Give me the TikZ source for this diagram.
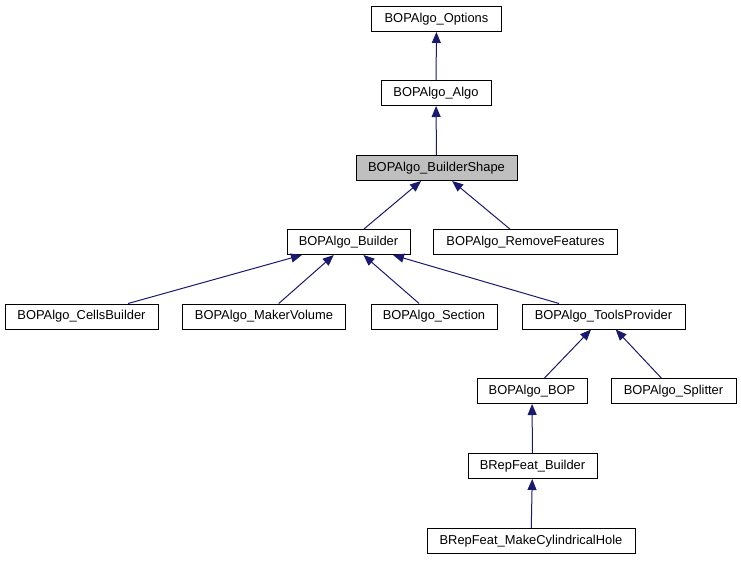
\documentclass[tikz,border=0pt]{standalone}
\usepackage{fontspec}
\setmainfont{Liberation Sans}
\usetikzlibrary{arrows.meta}
\definecolor{edgeblue}{RGB}{25,25,112}
\definecolor{curgray}{RGB}{191,191,191}
\begin{document}
\begin{tikzpicture}[x=1pt,y=-1pt,
	classbox/.style={rectangle, draw=black, line width=1pt, fill=white, minimum height=25pt, inner xsep=0pt, inner ysep=0pt, font=\fontsize{12.9}{15}\selectfont},
	current/.style={classbox, fill=curgray},
	edge/.style={draw=edgeblue, line width=1pt, -{Triangle[length=11pt,width=9pt]}}]
	\useasboundingbox (0,0) rectangle (741,560);
	\node[classbox, minimum width=130pt] at (436.5,19) (Options) {BOPAlgo\_Options};
	\node[classbox, minimum width=110pt] at (436,93) (Algo) {BOPAlgo\_Algo};
	\node[current, minimum width=161pt] at (436.5,168) (BuilderShape) {BOPAlgo\_BuilderShape};
	\node[classbox, minimum width=123pt] at (348.5,242) (Builder) {BOPAlgo\_Builder};
	\node[classbox, minimum width=184pt] at (525.5,242) (RemoveFeatures) {BOPAlgo\_RemoveFeatures};
	\node[classbox, minimum width=153pt] at (81.5,316.5) (CellsBuilder) {BOPAlgo\_CellsBuilder};
	\node[classbox, minimum width=163pt] at (264,316.5) (MakerVolume) {BOPAlgo\_MakerVolume};
	\node[classbox, minimum width=126pt] at (434,316.5) (Section) {BOPAlgo\_Section};
	\node[classbox, minimum width=163pt] at (603.5,316.5) (ToolsProvider) {BOPAlgo\_ToolsProvider};
	\node[classbox, minimum width=110pt] at (532,391) (BOP) {BOPAlgo\_BOP};
	\node[classbox, minimum width=125pt] at (673.5,391) (Splitter) {BOPAlgo\_Splitter};
	\node[classbox, minimum width=129pt] at (532.5,466) (FeatBuilder) {BRepFeat\_Builder};
	\node[classbox, minimum width=208pt] at (531,541) (CylHole) {BRepFeat\_MakeCylindricalHole};
	\draw[edge] (Algo) -- (Options);
	\draw[edge] (BuilderShape) -- (Algo);
	\draw[edge] (Builder) -- (BuilderShape);
	\draw[edge] (RemoveFeatures) -- (BuilderShape);
	\draw[edge] (CellsBuilder) -- (Builder);
	\draw[edge] (MakerVolume) -- (Builder);
	\draw[edge] (Section) -- (Builder);
	\draw[edge] (ToolsProvider) -- (Builder);
	\draw[edge] (BOP) -- (ToolsProvider);
	\draw[edge] (Splitter) -- (ToolsProvider);
	\draw[edge] (FeatBuilder) -- (BOP);
	\draw[edge] (CylHole) -- (FeatBuilder);
\end{tikzpicture}
\end{document}
